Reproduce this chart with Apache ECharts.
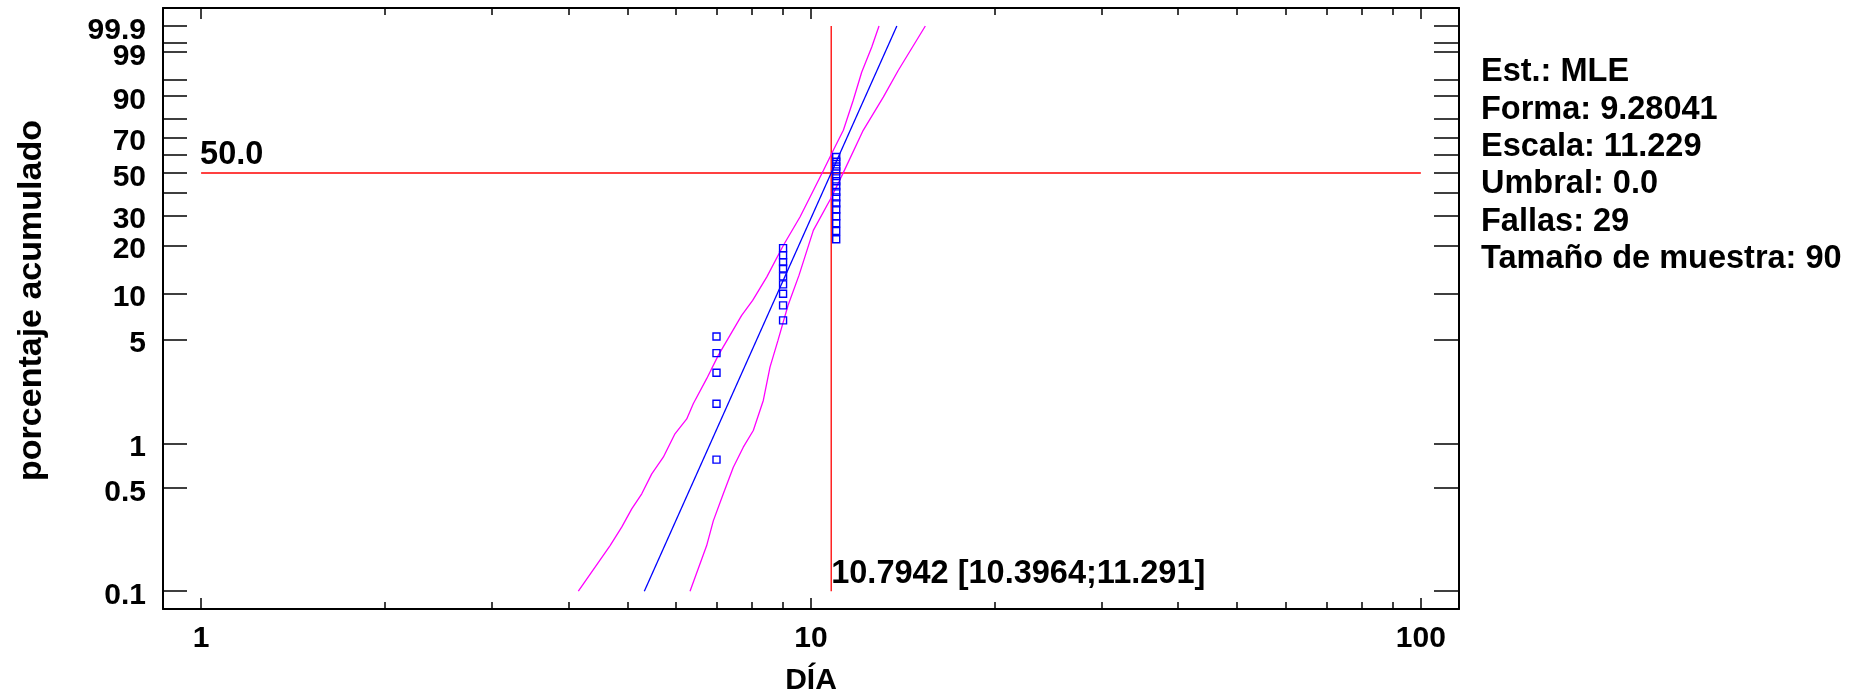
<!DOCTYPE html>
<html><head><meta charset="utf-8">
<script src="https://cdn.jsdelivr.net/npm/echarts@6/dist/echarts.min.js"></script>
<style>html,body{margin:0;padding:0;background:#fff}#c{width:1865px;height:699px}</style>
</head><body><div id="c"></div>
<script>
const FONT = '"Liberation Sans", Arial, Helvetica, sans-serif';

// ---- axes (DÍA on log scale, cumulative % on Weibull scale) ----
const xMajorTicks = [1, 10, 100];
const xMinorTicks = [2, 3, 4, 5, 6, 7, 8, 9, 20, 30, 40, 50, 60, 70, 80, 90];
const xRange = [0.866, 115.5];
const yTickValues = [0.1, 0.5, 1, 5, 10, 20, 30, 40, 50, 60, 70, 80, 90, 95, 99, 99.5, 99.9];
const yLabelValues = [0.1, 0.5, 1, 5, 10, 20, 30, 50, 70, 90, 99];
const yTopLabelValues = [99.9];
const yRange = [0.0757, 99.9894];

// ---- failures (day, cumulative %) ----
const failDays = [7, 7, 7, 7, 7,
  9, 9, 9, 9, 9, 9, 9, 9, 9,
  11, 11, 11, 11, 11, 11, 11, 11, 11, 11, 11, 11, 11, 11, 11];
const failPct = [0.78, 1.86, 3.0, 4.06, 5.23,
  6.68, 8.37, 9.96, 11.43, 12.85, 14.4, 15.8, 17.4, 19.28,
  21.8, 24.4, 27.1, 29.7, 32.4, 35.0, 37.7, 40.3, 43.0, 45.6, 48.3, 50.9, 53.6, 56.2, 58.9];

// ---- fitted Weibull line ----
const fitDays = [5.33, 13.83];
const fitPct = [0.1, 99.9];

// ---- confidence bounds ----
const boundLeftDays = [4.155, 4.684, 4.894, 5.083, 5.279, 5.482, 5.726, 5.984, 6.256, 6.412, 6.745, 7.047, 7.365, 7.698, 8.024, 8.461, 9.007, 9.594, 10.09, 10.48, 10.88, 11.30, 11.73, 12.11, 12.58, 12.93];
const boundLeftPct = [0.1, 0.204, 0.272, 0.362, 0.458, 0.625, 0.81, 1.166, 1.47, 1.86, 2.74, 3.92, 5.32, 7.2, 9.02, 12.72, 20.0, 29.4, 41.0, 51.4, 62.8, 74.1, 88.5, 96.5, 99.31, 99.9];
const boundRightDays = [6.334, 6.745, 6.916, 7.182, 7.459, 7.745, 8.043, 8.353, 8.567, 8.829, 9.169, 9.557, 10.09, 10.81, 11.30, 12.18, 13.14, 13.90, 15.40];
const boundRightPct = [0.1, 0.204, 0.30, 0.458, 0.693, 0.947, 1.228, 1.957, 3.27, 4.93, 8.36, 13.04, 24.6, 37.9, 50.2, 74.1, 89.7, 96.8, 99.9];

// ---- reference lines ----
const refPct = 50;
const refLineDays = [1, 100];
const medianDay = 10.7942;
const medianLinePct = [0.1, 99.9];
const refLabel = '50.0';
const medianLabel = '10.7942 [10.3964;11.291]';

const statsLines = ['Est.: MLE', 'Forma: 9.28041', 'Escala: 11.229', 'Umbral: 0.0', 'Fallas: 29', 'Tamaño de muestra: 90'];

// transforms used to place values on linear value axes
const tx = v => Math.log10(v);
const ty = p => Math.log(-Math.log(1 - p / 100));
const pairs = (xs, ps) => xs.map((x, i) => [tx(x), ty(ps[i])]);

const black = '#000';
const tickStyle = { color: black, width: 1.5 };
const labelStyle = { fontFamily: FONT, fontSize: 30, fontWeight: 'bold', color: black,
  hideOverlap: false, showMinLabel: true, showMaxLabel: true };

function xAxisDef(pos, ticks, len, withLabels, withLine) {
  return {
    type: 'value', position: pos, gridIndex: 0,
    min: tx(xRange[0]), max: tx(xRange[1]),
    axisLine: { show: withLine, onZero: false, lineStyle: { color: black, width: 2 } },
    axisTick: { show: true, inside: true, length: len, customValues: ticks.map(tx), lineStyle: tickStyle },
    axisLabel: withLabels ? Object.assign({ show: true, margin: 15, customValues: xMajorTicks.map(tx),
      formatter: v => String(Math.round(Math.pow(10, v))) }, labelStyle) : { show: false },
    splitLine: { show: false }, minorTick: { show: false }
  };
}
function pctLabel(list) {
  return v => { let best = list[0]; for (const p of list) if (Math.abs(ty(p) - v) < Math.abs(ty(best) - v)) best = p; return String(best); };
}
function yAxisDef(pos, len, labels, withLine) {
  return {
    type: 'value', position: pos, gridIndex: 0,
    min: ty(yRange[0]), max: ty(yRange[1]),
    axisLine: { show: withLine, onZero: false, lineStyle: { color: black, width: 2 } },
    axisTick: len > 0 ? { show: true, inside: true, length: len, customValues: yTickValues.map(ty), lineStyle: tickStyle } : { show: false },
    axisLabel: labels ? Object.assign({ show: true, margin: 17, customValues: labels.map(ty),
      verticalAlign: 'top', lineHeight: 9, formatter: pctLabel(labels) }, labelStyle) : { show: false },
    splitLine: { show: false }
  };
}

const xAxes = [
  xAxisDef('bottom', xMajorTicks, 11, true, true),
  xAxisDef('bottom', xMinorTicks, 7, false, false),
  xAxisDef('top', xMajorTicks, 11, false, true),
  xAxisDef('top', xMinorTicks, 7, false, false)
];
Object.assign(xAxes[0], { name: 'DÍA', nameLocation: 'middle', nameGap: 57,
  nameTextStyle: { fontFamily: FONT, fontSize: 30, fontWeight: 'bold', color: black, lineHeight: 30 } });
const yAxes = [
  yAxisDef('left', 24, yLabelValues, true),
  yAxisDef('right', 25, null, true),
  yAxisDef('left', 0, yTopLabelValues, false)
];
Object.assign(yAxes[0], { name: 'porcentaje acumulado', nameLocation: 'middle', nameGap: 114,
  nameTextStyle: { fontFamily: FONT, fontSize: 34, fontWeight: 'bold', color: black, lineHeight: 34, padding: [0, 0, 0, 16] } });

const lineSeries = (data, color, width) => ({
  type: 'line', data, showSymbol: false, symbol: 'none', silent: true,
  lineStyle: { color, width, opacity: 1 }, xAxisIndex: 0, yAxisIndex: 0, animation: false
});

const annoLabel = { show: true, position: 'top', distance: 1, align: 'left',
  fontFamily: FONT, fontSize: 32.5, fontWeight: 'bold', color: black, lineHeight: 32, opacity: 1 };

const option = {
  animation: false,
  backgroundColor: '#fff',
  grid: { left: 163, right: 406, top: 8, bottom: 90, containLabel: false, outerBoundsMode: 'none' },
  xAxis: xAxes,
  yAxis: yAxes,
  series: [
    lineSeries(pairs(refLineDays, [refPct, refPct]), '#ff0000', 1.3),
    lineSeries(pairs([medianDay, medianDay], medianLinePct), '#ff0000', 1.3),
    lineSeries(pairs(boundLeftDays, boundLeftPct), '#ff00ff', 1.3),
    lineSeries(pairs(boundRightDays, boundRightPct), '#ff00ff', 1.3),
    lineSeries(pairs(fitDays, fitPct), '#0000ff', 1.3),
    {
      type: 'scatter', data: pairs(failDays, failPct), symbol: 'rect', symbolSize: 7,
      itemStyle: { color: 'rgba(0,0,0,0)', borderColor: '#0000ff', borderWidth: 1.4, opacity: 1 },
      silent: true, z: 5
    },
    {
      type: 'scatter', symbolSize: 1, silent: true, z: 6,
      itemStyle: { color: 'rgba(0,0,0,0)', opacity: 1 },
      data: [
        { value: [tx(refLineDays[0]), ty(refPct)], label: Object.assign({}, annoLabel, { formatter: refLabel, offset: [-1, 0] }) },
        { value: [tx(medianDay), ty(medianLinePct[0])], label: Object.assign({}, annoLabel, { formatter: medianLabel, offset: [0, 0] }) }
      ]
    }
  ],
  graphic: [{
    type: 'text', left: 1481, top: 53.5,
    style: { text: statsLines.join('\n'), font: 'bold 32.5px ' + FONT, lineHeight: 37.4, fill: black }
  }]
};

const chart = echarts.init(document.getElementById('c'), null, { renderer: 'canvas' });
chart.setOption(option);
</script>
</body></html>
